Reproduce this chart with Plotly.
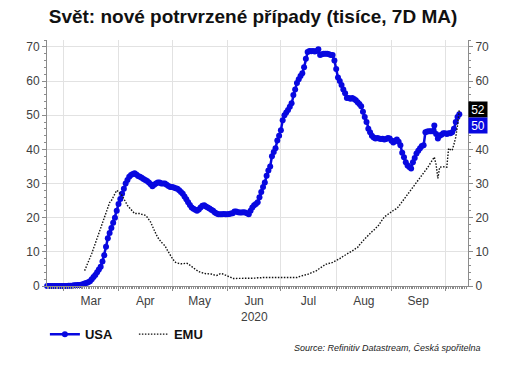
import pandas as pd
import plotly.graph_objects as go

dates = pd.date_range("2020-02-21", periods=232, freq="D")

usa_feb = [0.0] * 9
usa_mar = [0.0, 0.0, 0.0, 0.1, 0.1, 0.1, 0.2, 0.2, 0.3, 0.3, 0.4, 0.5, 0.7, 0.9, 1.1, 1.4, 2.0, 2.6, 3.2, 4.0,
           4.8, 5.6, 7.2, 9.0, 11.5, 14.0, 15.5, 17.0, 18.5, 20.0, 22.0]
usa_apr = [24.0, 25.5, 27.0, 28.5, 30.0, 31.0, 32.0, 32.5, 32.8, 33.0, 32.6, 32.2, 32.0, 31.7, 31.3, 31.0, 30.7,
           30.3, 29.8, 29.2, 29.6, 30.0, 30.3, 30.3, 30.0, 30.0, 30.0, 29.6, 29.3, 29.0]
usa_may = [29.0, 28.8, 28.6, 28.5, 28.0, 27.5, 27.0, 26.2, 25.4, 24.5, 23.7, 23.0, 22.6, 22.3, 22.0, 22.4, 23.0,
           23.5, 23.6, 23.3, 23.0, 22.7, 22.3, 22.0, 21.5, 21.2, 21.0, 21.0, 21.0, 21.1, 21.0]
usa_jun = [21.0, 21.1, 21.2, 21.3, 21.8, 21.8, 21.6, 21.5, 21.5, 21.6, 21.5, 21.3, 21.0, 22.0, 23.0, 23.6, 24.0,
           24.5, 26.0, 27.5, 29.0, 30.3, 32.3, 33.8, 35.0, 38.0, 39.2, 40.3, 42.6, 44.0]
usa_jul = [45.6, 48.5, 50.0, 50.8, 51.5, 52.5, 53.5, 55.9, 57.5, 59.4, 60.5, 61.5, 62.3, 64.0, 66.5, 68.5, 68.8,
           68.7, 68.8, 68.6, 68.8, 69.3, 67.6, 67.8, 68.0, 68.0, 68.0, 67.8, 67.6, 67.6, 66.0]
usa_aug = [63.5, 61.0, 60.0, 58.8, 57.5, 56.4, 55.0, 55.0, 54.8, 55.0, 54.7, 54.4, 53.8, 53.3, 52.6, 51.0, 49.5,
           48.0, 46.0, 45.0, 44.0, 43.5, 43.2, 43.3, 43.2, 43.0, 43.1, 42.9, 43.0, 43.3, 43.2]
usa_sep = [42.5, 42.0, 42.5, 42.9, 42.2, 41.2, 39.0, 37.7, 36.2, 35.3, 34.8, 34.4, 36.2, 37.5, 38.8, 39.6, 40.3,
           41.0, 41.2, 45.0, 45.2, 45.3, 45.3, 45.3, 47.0, 44.5, 43.2, 44.0, 44.3, 44.7]
usa_oct = [44.7, 44.5, 44.7, 44.7, 45.0, 46.0, 48.0, 49.5, 50.3]

emu_missing = [None] * 21
emu_mar = [4.5, 5.7, 6.8, 8.0, 9.5, 11.0, 12.5, 14.0, 15.5, 16.9, 18.5, 20.2, 22.0, 23.4, 24.4, 25.0, 26.0, 27.0, 28.0]
emu_apr = [27.6, 27.0, 26.5, 25.5, 24.4, 23.6, 23.0, 22.4, 21.8, 21.2, 21.2, 21.3, 21.2, 21.0, 20.8, 20.7, 20.2,
           19.5, 18.7, 17.5, 16.2, 15.2, 14.2, 13.3, 12.8, 12.3, 11.8, 10.8, 9.8, 8.9]
emu_may = [8.2, 7.5, 6.9, 6.7, 6.5, 6.5, 6.5, 6.6, 6.7, 6.5, 6.0, 5.7, 5.3, 4.9, 4.5, 4.2, 4.0, 3.8, 3.7, 3.6,
           3.6, 3.6, 3.5, 3.3, 3.2, 3.1, 3.3, 3.6, 3.6, 3.4, 3.2]
emu_jun = [3.1, 2.8, 2.5, 2.2, 2.2, 2.1, 2.2, 2.2, 2.1, 2.2, 2.2, 2.3, 2.2, 2.2, 2.2, 2.3, 2.3, 2.4, 2.3, 2.4,
           2.5, 2.5, 2.4, 2.5, 2.5, 2.6, 2.6, 2.5, 2.6, 2.5]
emu_jul = [2.5, 2.4, 2.5, 2.5, 2.5, 2.5, 2.4, 2.5, 2.5, 2.5, 2.7, 2.9, 3.1, 3.2, 3.3, 3.4, 3.6, 3.8, 4.1, 4.3,
           4.5, 4.9, 5.3, 5.7, 6.0, 6.3, 6.5, 6.6, 6.7, 6.9, 7.2]
emu_aug = [7.4, 7.7, 8.0, 8.4, 8.7, 9.0, 9.3, 9.6, 9.8, 10.2, 10.6, 11.0, 11.3, 12.0, 12.7, 13.3, 13.8, 14.3,
           14.9, 15.4, 15.9, 16.3, 16.8, 17.2, 17.9, 18.8, 19.7, 20.2, 20.6, 21.0, 21.5]
emu_sep = [21.8, 22.1, 22.4, 22.7, 23.3, 24.0, 24.6, 25.2, 25.9, 26.6, 27.4, 28.0, 28.7, 29.3, 30.0, 30.7, 31.5,
           32.2, 32.9, 33.7, 34.5, 35.3, 36.2, 37.0, 37.7, 35.5, 31.5, 34.8, 34.9, 34.8]
emu_oct = [34.9, 34.8, 40.3, 39.9, 39.7, 41.5, 43.5, 47.0, 51.6]

usa = usa_feb + usa_mar + usa_apr + usa_may + usa_jun + usa_jul + usa_aug + usa_sep + usa_oct
emu = emu_missing + emu_mar + emu_apr + emu_may + emu_jun + emu_jul + emu_aug + emu_sep + emu_oct

y_ticks = [0, 10, 20, 30, 40, 50, 60, 70]
# the right-axis "50" is hidden behind the last-value labels in the reference
y_right_text = ["0", "10", "20", "30", "40", "", "60", "70"]

BLUE = "#0808e0"
FONT = "Arial, Liberation Sans, sans-serif"
GRID = "#e2e2e2"
AX = "#8c8c8c"
TXT = "#404040"

fig = go.Figure()
fig.add_trace(go.Scatter(x=dates, y=usa, name="<b>USA</b>", mode="lines+markers",
                         line=dict(color=BLUE, width=2.5), marker=dict(color=BLUE, size=6),
                         cliponaxis=False))
fig.add_trace(go.Scatter(x=dates, y=emu, name="<b>EMU</b>", mode="lines",
                         line=dict(color="#111111", width=1.4, dash="1.5px,1.5px"), cliponaxis=False))
# invisible trace for the right axis
fig.add_trace(go.Scatter(x=dates[:1], y=[0], yaxis="y2", showlegend=False, mode="markers",
                         marker=dict(opacity=0), hoverinfo="skip"))

yax = dict(range=[0, 72], tickvals=y_ticks, showline=True, linecolor=AX, linewidth=1,
           ticks="outside", ticklen=4, tickcolor=AX, zeroline=False,
           tickfont=dict(family=FONT, size=12, color=TXT),
           minor=dict(dtick=2, ticks="outside", ticklen=2, tickcolor=AX, showgrid=False))

fig.update_layout(
    width=506, height=366,
    margin=dict(l=47, r=38, t=40, b=80),
    paper_bgcolor="white", plot_bgcolor="white",
    title=dict(text="<b>Svět: nové potrvrzené případy (tisíce, 7D MA)</b>", x=0.5, xanchor="center",
               y=0.956, yanchor="middle", yref="container",
               font=dict(family=FONT, size=19, color="#111111")),
    xaxis=dict(type="date", range=["2020-02-20 22:00", "2020-10-13 21:00"],
               dtick="M1", tick0="2020-03-01", ticklabelmode="period", tickformat="%b",
               showgrid=True, gridcolor=GRID, gridwidth=1,
               showline=True, linecolor=AX, linewidth=1, ticks="outside", ticklen=4, tickcolor=AX,
               tickfont=dict(family=FONT, size=12, color=TXT),
               minor=dict(dtick=86400000, ticks="outside", ticklen=2, tickcolor=AX, showgrid=False)),
    yaxis=dict(**yax, showgrid=True, gridcolor=GRID, gridwidth=1, side="left"),
    yaxis2=dict(**yax, ticktext=y_right_text, tickmode="array", overlaying="y", side="right", showgrid=False),
    showlegend=True,
    legend=dict(orientation="h", x=-0.005, xanchor="left", y=-0.135, yanchor="top",
                font=dict(family=FONT, size=13, color="#111111"), itemwidth=30,
                entrywidth=44, entrywidthmode="pixels",
                bgcolor="rgba(0,0,0,0)"),
)

# year label below Jun
fig.add_annotation(text="2020", x="2020-06-16", xref="x", y=-0.09, yref="paper", yanchor="top",
                   showarrow=False, font=dict(family=FONT, size=12, color=TXT))

# last-value labels on the right axis
fig.add_annotation(text=f"{round(emu[-1])}", xref="paper", x=1, xanchor="left", xshift=0,
                   y=emu[-1], yref="y", yanchor="middle", yshift=0, showarrow=False,
                   font=dict(family=FONT, size=12, color="white"), bgcolor="#000000",
                   width=16, height=13, borderpad=1)
fig.add_annotation(text=f"{round(usa[-1])}", xref="paper", x=1, xanchor="left", xshift=0,
                   y=usa[-1], yref="y", yanchor="middle", yshift=-11, showarrow=False,
                   font=dict(family=FONT, size=12, color="white"), bgcolor=BLUE,
                   width=16, height=13, borderpad=1)

fig.add_annotation(text="<i>Source: Refinitiv Datastream, Česká spořitelna</i>", xref="paper", x=1.036,
                   xanchor="right", y=-0.252, yref="paper", yanchor="middle", showarrow=False,
                   font=dict(family=FONT, size=9, color="#222222"))

fig.write_html("out.html", config={"displayModeBar": False},
               post_script="document.body.style.margin='0';document.body.style.padding='0';")
